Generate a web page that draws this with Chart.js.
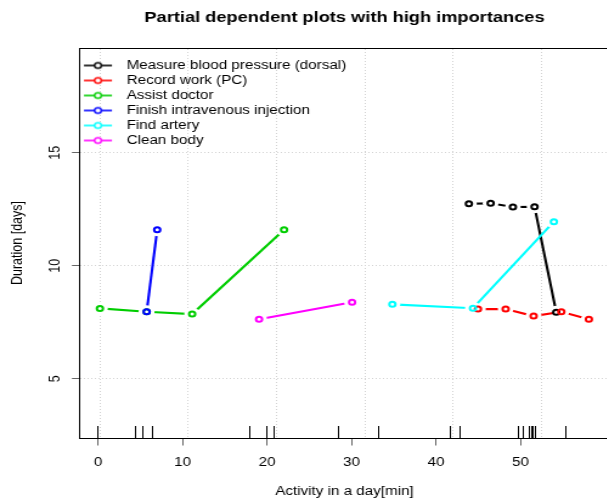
<!DOCTYPE html>
<html>
<head>
<meta charset="utf-8">
<script src="https://cdn.jsdelivr.net/npm/chart.js@4/dist/chart.umd.min.js"></script>
<style>
  html, body { margin: 0; padding: 0; background: #fff; overflow: hidden; }
  #chart { display: block; }
</style>
</head>
<body>
<canvas id="chart" width="501" height="499"></canvas>
<script>
// data
const seriesNames = [
    'Measure blood pressure (dorsal)',
    'Record work (PC)',
    'Assist doctor',
    'Finish intravenous injection',
    'Find artery',
    'Clean body'
];
const measureX = [43.88, 46.45, 49.09, 51.65, 54.22];
const measureY = [12.74, 12.76, 12.60, 12.61, 7.94];
const recordX = [44.95, 48.23, 51.54, 54.82, 58.08];
const recordY = [8.08, 8.08, 7.77, 7.96, 7.63];
const assistX = [0.20, 5.73, 11.12, 22.00];
const assistY = [8.11, 7.96, 7.86, 11.59];
const injectionX = [5.73, 6.98];
const injectionY = [7.96, 11.59];
const arteryX = [34.82, 44.36, 53.94];
const arteryY = [8.29, 8.12, 11.95];
const cleanX = [19.04, 30.05];
const cleanY = [7.63, 8.38];

const xTicks = [0, 10, 20, 30, 40, 50];
const yTicks = [5, 10, 15];
const gridX = [0.2, 10.65, 21.1, 31.63, 42.0, 52.52];
const rugX = [0, 4.46, 5.25, 6.5, 18.0, 20.0, 20.83, 28.5, 33.2, 41.7, 42.8,
              49.8, 50.3, 51.0, 51.3, 51.5, 51.7, 55.3];

const xMin = -2.165, xMax = 60.465;
const yMin = 2.376, yMax = 19.633;

const colors = ['#000000', '#ff0000', '#00cd00', '#0000ff', '#00ffff', '#ff00ff'];
const seriesX = [measureX, recordX, assistX, injectionX, arteryX, cleanX];
const seriesY = [measureY, recordY, assistY, injectionY, arteryY, cleanY];

// the original picture is stretched sideways
const STRETCH = 1.2165;
const canvas = document.getElementById('chart');
canvas.style.width = (canvas.width * STRETCH) + 'px';
canvas.style.height = canvas.height + 'px';

const FONT = "'Liberation Sans', Arial, Helvetica, sans-serif";
Chart.defaults.font.family = FONT;
Chart.defaults.color = '#000';

const makeIcon = (color) => {
    const c = document.createElement('canvas');
    c.width = 32;
    c.height = 12;
    const g = c.getContext('2d');
    g.strokeStyle = color;
    g.lineWidth = 1.6;
    g.beginPath();
    g.moveTo(2, 6);
    g.lineTo(25, 6);
    g.stroke();
    g.beginPath();
    g.arc(13.5, 6, 2.8, 0, Math.PI * 2);
    g.fillStyle = '#fff';
    g.fill();
    g.lineWidth = 1.4;
    g.stroke();
    return c;
};
const icons = colors.map(makeIcon);

const datasets = [];
seriesNames.forEach((name, i) => {
    const points = seriesX[i].map((x, k) => ({ x: x, y: seriesY[i][k] }));
    // line with white gaps round the points (like type = "b")
    datasets.push({
        label: name,
        data: points,
        borderColor: colors[i],
        borderWidth: 2.1,
        pointRadius: 6.5,
        pointHoverRadius: 6.5,
        pointBackgroundColor: '#fff',
        pointBorderWidth: 0,
        pointBorderColor: 'rgba(0,0,0,0)',
        fill: false,
        tension: 0,
        order: 15 - i
    });
    // open circles
    datasets.push({
        label: name + ' points',
        data: points,
        showLine: false,
        pointRadius: 2.5,
        pointHoverRadius: 2.5,
        pointBorderWidth: 2,
        pointBorderColor: colors[i],
        pointBackgroundColor: 'rgba(0,0,0,0)',
        order: 5 - i
    });
});

const setTicks = (values) => (axis) => {
    axis.ticks = values.map(v => ({ value: v }));
};

new Chart(canvas, {
    type: 'line',
    data: { datasets: datasets },
    options: {
        responsive: false,
        animation: false,
        devicePixelRatio: 1,
        layout: { padding: 0, autoPadding: false },
        events: [],
        scales: {
            x: {
                type: 'linear',
                position: 'bottom',
                weight: 1,
                min: xMin,
                max: xMax,
                afterBuildTicks: setTicks(xTicks),
                afterFit: (axis) => { axis.height = 61; },
                grid: {
                    drawOnChartArea: false,
                    drawTicks: true,
                    tickLength: 7.5,
                    tickColor: '#666',
                    tickWidth: 1
                },
                border: { display: true, color: '#000', width: 1 },
                ticks: {
                    autoSkip: false,
                    maxRotation: 0,
                    padding: 10,
                    color: '#000',
                    font: { size: 12.5 }
                },
                title: {
                    display: true,
                    text: 'Activity in a day[min]',
                    color: '#000',
                    font: { size: 12.5 },
                    padding: { top: 0, bottom: 0 }
                }
            },
            xr: {
                type: 'linear',
                position: 'bottom',
                weight: 0,
                min: xMin,
                max: xMax,
                afterBuildTicks: setTicks(rugX),
                afterFit: (axis) => { axis.height = 0; },
                grid: {
                    drawOnChartArea: false,
                    drawTicks: true,
                    tickLength: -12,
                    tickColor: '#000',
                    tickWidth: 1
                },
                border: { display: false },
                ticks: { display: false, autoSkip: false }
            },
            xg: {
                type: 'linear',
                position: 'top',
                weight: 0,
                min: xMin,
                max: xMax,
                afterBuildTicks: setTicks(gridX),
                afterFit: (axis) => { axis.height = 0; },
                grid: {
                    drawOnChartArea: true,
                    drawTicks: false,
                    color: '#d3d3d3',
                    lineWidth: 1
                },
                border: { display: true, color: '#000', width: 1, dash: [1, 2] },
                ticks: { display: false, autoSkip: false }
            },
            y: {
                type: 'linear',
                position: 'left',
                min: yMin,
                max: yMax,
                afterBuildTicks: setTicks(yTicks),
                afterFit: (axis) => { axis.width = 80 / STRETCH; },
                grid: {
                    drawOnChartArea: true,
                    drawTicks: true,
                    color: '#d3d3d3',
                    lineWidth: 1,
                    tickLength: 8 / STRETCH,
                    tickColor: '#666',
                    tickWidth: 1,
                    tickBorderDash: []
                },
                border: { display: true, color: '#000', width: 1, dash: [1, 2] },
                ticks: {
                    autoSkip: false,
                    minRotation: 90,
                    maxRotation: 90,
                    crossAlign: 'center',
                    padding: 6.2,
                    color: '#000',
                    font: { size: 12.5 }
                },
                title: {
                    display: true,
                    text: 'Duration [days]',
                    color: '#000',
                    font: { size: 12.5 },
                    padding: { top: 6.8, bottom: 0 }
                }
            }
        },
        plugins: {
            tooltip: { enabled: false },
            title: {
                display: true,
                text: 'Partial dependent plots with high importances',
                fullSize: false,
                color: '#000',
                font: { size: 15, weight: 'bold', lineHeight: 1.2 },
                padding: { top: 8.4, bottom: 21.6 }
            },
            legend: {
                position: 'chartArea',
                align: 'start',
                title: {
                    display: true,
                    text: ' ',
                    font: { size: 1, lineHeight: 1 },
                    padding: { top: 55.75, bottom: 0 }
                },
                labels: {
                    usePointStyle: true,
                    pointStyleWidth: 29.64,
                    padding: 2.5,
                    color: '#000',
                    font: { size: 12.5 },
                    generateLabels: () => seriesNames.map((name, i) => ({
                        text: name,
                        pointStyle: icons[i],
                        fillStyle: '#fff',
                        strokeStyle: colors[i],
                        lineWidth: 0,
                        hidden: false,
                        datasetIndex: i * 2
                    }))
                }
            }
        }
    }
});
</script>
</body>
</html>
